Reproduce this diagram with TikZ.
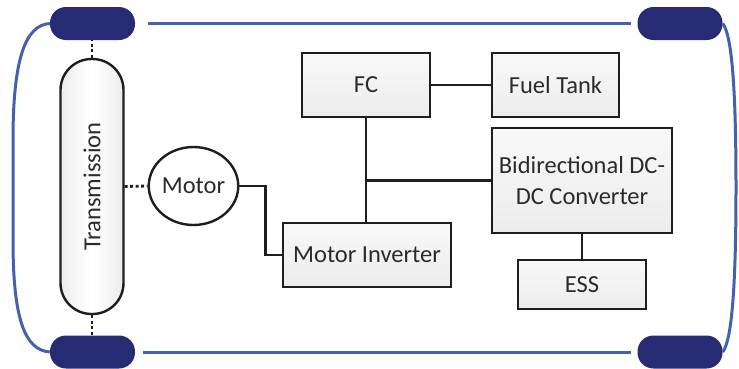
\documentclass[tikz,border=0pt]{standalone}
\usepackage{fontspec}
\setmainfont{Carlito}
\usetikzlibrary{shapes.geometric}
\definecolor{wheelblue}{HTML}{262B73}
\definecolor{bodyblue}{HTML}{4262AE}
\definecolor{boxline}{HTML}{1E1E1E}
\definecolor{txtgray}{HTML}{2B2B2B}
\begin{document}
\begin{tikzpicture}[x=1pt, y=-1pt,
  every node/.style={font=\fontsize{24.5}{31}\selectfont, text=txtgray},
  unit/.style={draw=boxline, line width=2.4pt, top color=gray!5, bottom color=gray!15, inner sep=0pt},
  wheel/.style={fill=wheelblue, rounded corners=16pt, minimum width=85pt, minimum height=33pt, inner sep=0pt},
  link/.style={draw=boxline, line width=2.8pt},
  shaft/.style={draw=boxline, line width=2.8pt, dash pattern=on 3pt off 2.5pt},
  chassis/.style={draw=bodyblue, line width=3pt}]
\useasboundingbox (0,0) rectangle (739,368);
% wheels and body
\node[wheel] (wtl) at (92.5,23.5) {};
\node[wheel] (wtr) at (680,23.5) {};
\node[wheel] (wbl) at (92.5,352) {};
\node[wheel] (wbr) at (680,352) {};
\draw[chassis, shorten <=13pt, shorten >=6pt] (wtl) -- (wtr);
\draw[chassis, shorten <=8pt, shorten >=6pt] (wbl) -- (wbr);
\draw[chassis] (wtl.west) .. controls (25,25) and (13,60) .. (13,140) -- (13,240) .. controls (13,320) and (25,350) .. (wbl.west);
\draw[chassis] (wtr.east) .. controls (732,35) and (736,90) .. (736,187) .. controls (736,285) and (732,340) .. (wbr.east);
% drive train
\node[unit, rounded corners=31pt, minimum width=63pt, minimum height=255pt, left color=gray!15, right color=gray!15, middle color=white] (trans) at (92,186.5) {};
\node[rotate=90] (transtext) at (trans.center) {Transmission};
\node[draw=boxline, line width=2.4pt, ellipse, fill=white, minimum width=87pt, minimum height=78pt, inner sep=0pt] (motor) at (193.5,186) {Motor};
\draw[shaft] (trans.north) -- (trans.north |- wtl.south);
\draw[shaft] (trans.south) -- (trans.south |- wbl.north);
\draw[shaft] (trans.east) -- (motor.west);
% power units
\node[unit, minimum width=128pt, minimum height=64pt] (fc) at (366,85) {FC};
\node[unit, minimum width=127pt, minimum height=64pt] (tank) at (555.5,85) {Fuel Tank};
\node[unit, minimum width=180pt, minimum height=105pt, align=center] (conv) at (582,180.5) {Bidirectional DC-\\DC Converter};
\node[unit, minimum width=128pt, minimum height=49pt] (ess) at (582,284.5) {ESS};
\node[unit, minimum width=168pt, minimum height=64pt] (inv) at (367,255) {Motor Inverter};
\coordinate (tee) at (fc.south |- conv.west);
\draw[link] (fc) -- (tank);
\draw[link] (fc.south) -- (fc.south |- inv.north);
\draw[link] (tee) -- (conv.west);
\draw[link] (conv) -- (ess);
\draw[link] (motor.east) -- ++(26,0) |- (inv.west);
\end{tikzpicture}
\end{document}
